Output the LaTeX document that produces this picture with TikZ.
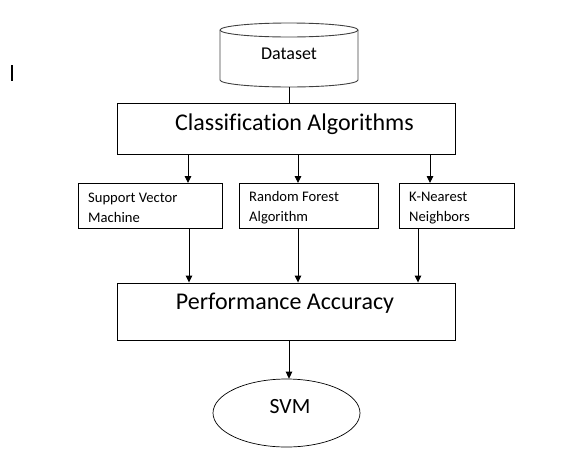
\documentclass[tikz,border=0pt]{standalone}
\usepackage{fontspec}
\setmainfont[Ligatures=NoCommon]{Carlito}
\usetikzlibrary{shapes.geometric,arrows.meta}
\begin{document}
\begin{tikzpicture}[x=1pt,y=-1pt,
  box/.style={draw,line width=0.9pt,inner sep=0pt},
  smalltxt/.style={align=left,inner sep=0pt,anchor=west,font=\fontsize{14.6}{20}\selectfont},
  arr/.style={line width=0.9pt,-{Triangle[length=7pt,width=6.5pt]}},
  ln/.style={line width=0.9pt},
  bigtxt/.style={font=\fontsize{24}{28}\selectfont,inner sep=0pt}]
\useasboundingbox (0,0) rectangle (580,464);
% stray cursor mark
\draw[line width=2pt] (12,65) -- (12,81);
% cylinder (Dataset)
\draw[line width=0.9pt,draw=black!75] (220,30) arc[start angle=180,end angle=540,x radius=69,y radius=7];
\draw[line width=0.9pt,draw=black!75] (220,30) -- (220,80) arc[start angle=180,end angle=360,x radius=69,y radius=-7] -- (358,30);
\node[font=\fontsize{18}{21}\selectfont,inner sep=0pt] (ds) at (289,54) {Dataset};
\coordinate (dsb) at (289,87);
% classification
\node[box,minimum width=338pt,minimum height=51pt] (cls) at (286,128.5) {};
\node[bigtxt] (clsT) at (294.5,124) {Classification Algorithms};
% algorithm boxes
\node[box,minimum width=144pt,minimum height=45pt] (svm) at (150,205.5) {};
\node[box,minimum width=139pt,minimum height=45pt] (rf) at (308.5,205.5) {};
\node[box,minimum width=115pt,minimum height=45pt] (knn) at (456.5,205.5) {};
\node[smalltxt] (svmT) at (88,208) {Support Vector\\Machine};
\node[smalltxt] (rfT) at (249,208) {Random Forest\\Algorithm};
\node[smalltxt] (knnT) at (409,208) {K-Nearest\\Neighbors};
% performance
\node[box,minimum width=338pt,minimum height=57pt] (perf) at (286,311.5) {};
\node[bigtxt] (perfT) at (285,303.5) {Performance Accuracy};
% result ellipse
\node[draw,ellipse,line width=0.7pt,minimum width=147pt,minimum height=68pt,inner sep=0pt] (res) at (286.5,413) {};
\node[font=\fontsize{21.7}{24}\selectfont,inner sep=0pt] (resT) at (290,407) {SVM};
% connector anchor points
\coordinate (a1) at (188,183);
\coordinate (a2) at (298,183);
\coordinate (a3) at (430,183);
\coordinate (b1) at (189,228);
\coordinate (b2) at (298,228);
\coordinate (b3) at (418,228);
\coordinate (c0) at (289,340);
% connectors
\draw[ln] (dsb) -- (dsb |- cls.north);
\draw[arr] (cls.south -| a1) -- (a1);
\draw[arr] (cls.south -| a2) -- (a2);
\draw[arr] (cls.south -| a3) -- (a3);
\draw[arr] (b1) -- (b1 |- perf.north);
\draw[arr] (b2) -- (b2 |- perf.north);
\draw[arr] (b3) -- (b3 |- perf.north);
\draw[arr] (c0) -- (c0 |- res.north);
\end{tikzpicture}
\end{document}
